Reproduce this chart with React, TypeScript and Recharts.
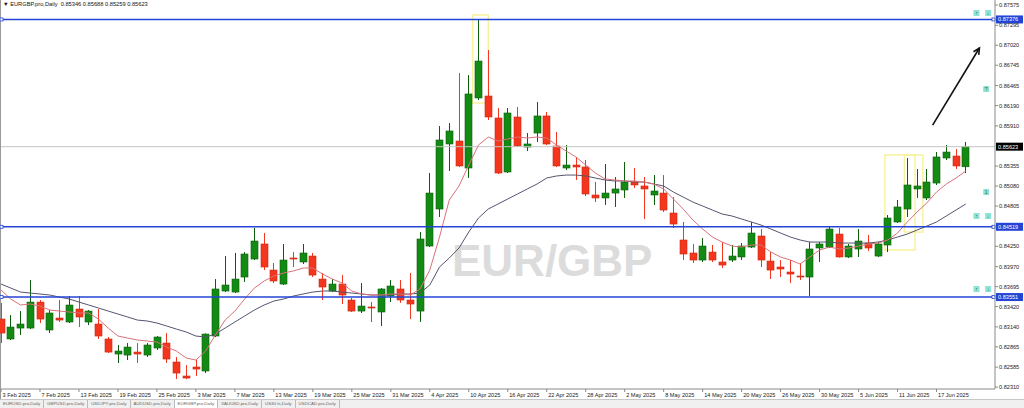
import React from "react";
import {
  ComposedChart,
  Bar,
  Line,
  XAxis,
  YAxis,
  ReferenceLine,
  ReferenceArea,
  ReferenceDot,
} from "recharts";

const FONT = '"Liberation Sans", Arial, sans-serif';
const GREEN = "#138a13";
const GREEN_EDGE = "#0c5e0c";
const RED = "#f4361e";
const RED_EDGE = "#c9280f";
const BLUE = "#2444d6";
const AXIS = "#8a8a8a";

// trading days shown on the chart
const febDays = [3, 4, 5, 6, 7, 10, 11, 12, 13, 14, 17, 18, 19, 20, 21, 24, 25, 26, 27, 28];
const marDays = [3, 4, 5, 6, 7, 10, 11, 12, 13, 14, 17, 18, 19, 20, 21, 24, 25, 26, 27, 28, 31];
const aprDays = [1, 2, 3, 4, 7, 8, 9, 10, 11, 14, 15, 16, 17, 18, 21, 22, 23, 24, 25, 28, 29, 30];
const mayDays = [1, 2, 5, 6, 7, 8, 9, 12, 13, 14, 15, 16, 19, 20, 21, 22, 23, 26, 27, 28, 29, 30];
const junDays = [2, 3, 4, 5, 6, 9, 10, 11, 12, 13, 16, 17, 18, 19, 20];

const dates = [
  ...febDays.map((d) => `${d} Feb 2025`),
  ...marDays.map((d) => `${d} Mar 2025`),
  ...aprDays.map((d) => `${d} Apr 2025`),
  ...mayDays.map((d) => `${d} May 2025`),
  ...junDays.map((d) => `${d} Jun 2025`),
];

const tickLabels = [
  "3 Feb 2025", "7 Feb 2025", "13 Feb 2025", "19 Feb 2025", "25 Feb 2025", "3 Mar 2025",
  "7 Mar 2025", "13 Mar 2025", "19 Mar 2025", "25 Mar 2025", "31 Mar 2025", "4 Apr 2025",
  "10 Apr 2025", "16 Apr 2025", "22 Apr 2025", "28 Apr 2025", "2 May 2025", "8 May 2025",
  "14 May 2025", "20 May 2025", "26 May 2025", "30 May 2025", "5 Jun 2025", "11 Jun 2025",
  "17 Jun 2025",
];

const open = [
  0.83248, 0.82973, 0.83124, 0.83124, 0.83482, 0.83097, 0.83262, 0.83207, 0.83386, 0.83207,
  0.83179, 0.82973, 0.82766, 0.82752, 0.82793, 0.82752, 0.82849, 0.82917, 0.82656, 0.82463,
  0.82587, 0.82532, 0.83014, 0.83634, 0.8362, 0.83827, 0.84075, 0.84282, 0.83923, 0.8373,
  0.84089, 0.84034, 0.84116, 0.83799, 0.83634, 0.8373, 0.8351, 0.83358, 0.83414, 0.83345,
  0.83565, 0.83662, 0.8351, 0.83358, 0.84254, 0.84764, 0.8566, 0.85701, 0.85329, 0.86294,
  0.86321, 0.86018, 0.85274, 0.86032, 0.85618, 0.85811, 0.86046, 0.85632, 0.85329, 0.8537,
  0.85343, 0.84957, 0.84916, 0.84984, 0.85026, 0.85136, 0.85081, 0.84957, 0.84984, 0.84709,
  0.84337, 0.84158, 0.84061, 0.84171, 0.84034, 0.84061, 0.84103, 0.8424, 0.84392, 0.84047,
  0.83965, 0.83896, 0.83841, 0.83827, 0.84227, 0.8424, 0.84419, 0.84103, 0.84213, 0.84295,
  0.84116, 0.84268, 0.84585, 0.84764, 0.8504, 0.84916, 0.85122, 0.85467, 0.85494, 0.85346,
];

const high = [
  0.83469, 0.83303, 0.83358, 0.83786, 0.8351, 0.83372, 0.8351, 0.83565, 0.83565, 0.83372,
  0.83386, 0.83, 0.8289, 0.82917, 0.82917, 0.82917, 0.83014, 0.83055, 0.82725, 0.82614,
  0.82697, 0.8305, 0.83799, 0.84116, 0.84158, 0.84171, 0.84502, 0.84433, 0.8402, 0.84282,
  0.84171, 0.84282, 0.84158, 0.83882, 0.83799, 0.83854, 0.83538, 0.83744, 0.83482, 0.83675,
  0.83786, 0.83786, 0.83882, 0.84447, 0.8526, 0.85908, 0.85949, 0.86638, 0.8661, 0.87382,
  0.86955, 0.86156, 0.86156, 0.8617, 0.85811, 0.86238, 0.86101, 0.85825, 0.85646, 0.85481,
  0.85439, 0.85136, 0.85384, 0.85205, 0.85412, 0.85329, 0.85205, 0.85232, 0.85232, 0.84929,
  0.84585, 0.84282, 0.84364, 0.84268, 0.84309, 0.84268, 0.84295, 0.84585, 0.84488, 0.84171,
  0.84061, 0.84061, 0.8402, 0.84309, 0.84309, 0.84516, 0.84502, 0.84282, 0.84488, 0.84406,
  0.84309, 0.84681, 0.84888, 0.85467, 0.85315, 0.85315, 0.85549, 0.85646, 0.85591, 0.85688,
];

const low = [
  0.82917, 0.82959, 0.83028, 0.8311, 0.83193, 0.83055, 0.83207, 0.83193, 0.83138, 0.83165,
  0.82973, 0.8278, 0.82642, 0.82683, 0.82642, 0.82725, 0.82821, 0.82642, 0.82421, 0.82421,
  0.82463, 0.82504, 0.83, 0.8362, 0.83606, 0.83758, 0.84061, 0.83923, 0.83744, 0.83717,
  0.83965, 0.84006, 0.83827, 0.8351, 0.8362, 0.83455, 0.83345, 0.83331, 0.83207, 0.83152,
  0.83482, 0.83469, 0.83248, 0.83207, 0.8424, 0.84654, 0.85288, 0.85343, 0.85191, 0.86266,
  0.8599, 0.85246, 0.8526, 0.85618, 0.85563, 0.85687, 0.85646, 0.85343, 0.85301, 0.85164,
  0.84943, 0.8486, 0.84819, 0.84792, 0.84916, 0.85053, 0.84626, 0.84819, 0.84723, 0.84502,
  0.84061, 0.8402, 0.84034, 0.84034, 0.83951, 0.84034, 0.84061, 0.84227, 0.83965, 0.83799,
  0.83827, 0.83744, 0.83786, 0.83565, 0.84034, 0.84227, 0.84095, 0.84089, 0.84103, 0.84185,
  0.84103, 0.84171, 0.84571, 0.84654, 0.84916, 0.84888, 0.85095, 0.85439, 0.85315, 0.85259,
];

const close = [
  0.83055, 0.83138, 0.83179, 0.83482, 0.83248, 0.83331, 0.83234, 0.83441, 0.83276, 0.83358,
  0.83014, 0.82793, 0.82807, 0.82862, 0.82766, 0.8289, 0.83, 0.82697, 0.82504, 0.82435,
  0.82559, 0.83041, 0.83662, 0.83717, 0.83799, 0.84144, 0.84323, 0.83965, 0.83772, 0.84061,
  0.84075, 0.84158, 0.83854, 0.83689, 0.8373, 0.83579, 0.83358, 0.83427, 0.834, 0.83662,
  0.83703, 0.8351, 0.83455, 0.84351, 0.84984, 0.85715, 0.85839, 0.85357, 0.86349, 0.86803,
  0.86032, 0.8526, 0.86087, 0.85632, 0.8566, 0.86046, 0.8566, 0.85357, 0.8537, 0.85343,
  0.84971, 0.84916, 0.84984, 0.8504, 0.85136, 0.85095, 0.8504, 0.85012, 0.8475, 0.84557,
  0.84144, 0.84061, 0.84254, 0.84061, 0.83992, 0.84116, 0.84254, 0.84433, 0.84061, 0.83923,
  0.83937, 0.83868, 0.83827, 0.84213, 0.84282, 0.84488, 0.84103, 0.84254, 0.84323, 0.84227,
  0.84282, 0.8464, 0.84792, 0.85095, 0.85081, 0.85136, 0.85481, 0.85549, 0.85357, 0.85623,
];

// moving averages (thin red = fast, slate = slow)
const maFast = [
  0.83648, 0.83524, 0.83441, 0.83455, 0.83427, 0.83372, 0.83358, 0.83345, 0.83331, 0.83331,
  0.83248, 0.83124, 0.83014, 0.82986, 0.82959, 0.82945, 0.82931, 0.82862, 0.82807, 0.82711,
  0.82683, 0.82807, 0.83028, 0.83234, 0.83358, 0.83524, 0.83675, 0.83772, 0.83841, 0.83882,
  0.8391, 0.83951, 0.83951, 0.83868, 0.83799, 0.83744, 0.83634, 0.83593, 0.83579, 0.83579,
  0.83593, 0.83593, 0.83579, 0.83662, 0.83923, 0.84378, 0.84888, 0.85081, 0.8537, 0.85646,
  0.85756, 0.85701, 0.85729, 0.85756, 0.85742, 0.85756, 0.85742, 0.85646, 0.85563, 0.85481,
  0.8537, 0.8526, 0.85177, 0.85164, 0.8515, 0.8515, 0.85136, 0.85108, 0.8504, 0.84902,
  0.84764, 0.84612, 0.84488, 0.84378, 0.84309, 0.84254, 0.8424, 0.84268, 0.84268, 0.84171,
  0.84103, 0.84061, 0.84006, 0.84103, 0.84199, 0.8424, 0.84213, 0.84227, 0.84254, 0.84282,
  0.84295, 0.84337, 0.84433, 0.84585, 0.84723, 0.84847, 0.84998, 0.85108, 0.85191, 0.85288,
];

const maSlow = [
  0.8373, 0.83675, 0.8362, 0.83606, 0.83593, 0.83579, 0.83551, 0.83524, 0.83482, 0.83441,
  0.834, 0.83358, 0.83317, 0.83276, 0.83234, 0.83221, 0.83193, 0.83152, 0.8311, 0.83069,
  0.83014, 0.83, 0.83041, 0.83124, 0.83207, 0.8329, 0.83372, 0.83441, 0.83496, 0.83524,
  0.83565, 0.83593, 0.8362, 0.83634, 0.83634, 0.8362, 0.83606, 0.83593, 0.83579, 0.83579,
  0.83579, 0.83593, 0.83593, 0.83606, 0.83717, 0.83965, 0.84089, 0.84227, 0.84447, 0.8464,
  0.84764, 0.84833, 0.84902, 0.84971, 0.8504, 0.85108, 0.85191, 0.85219, 0.85232, 0.85232,
  0.85219, 0.85191, 0.85164, 0.8515, 0.8515, 0.85136, 0.85136, 0.85108, 0.85081, 0.84998,
  0.84929, 0.8486, 0.84805, 0.8475, 0.84695, 0.84668, 0.84626, 0.84585, 0.84543, 0.84488,
  0.84433, 0.84378, 0.84337, 0.84309, 0.84309, 0.84309, 0.84295, 0.84295, 0.84295, 0.84295,
  0.84309, 0.84337, 0.84378, 0.84419, 0.84474, 0.84529, 0.84585, 0.84668, 0.8475, 0.84833,
];

const priceTicks = [
  0.87575, 0.87295, 0.8702, 0.86745, 0.86465, 0.8619, 0.8591, 0.85355, 0.8508, 0.84805,
  0.8425, 0.8397, 0.83695, 0.8342, 0.8314, 0.82865, 0.82585, 0.8231,
];

const levels = [0.87376, 0.84519, 0.83551];
const lastPrice = 0.85623;
const symbol = "EURGBP.pro,Daily";
const tabs = [
  "EURUSD.pro,Daily", "GBPUSD.pro,Daily", "USDJPY.pro,Daily", "AUDUSD.pro,Daily",
  "EURGBP.pro,Daily", "XAUUSD.pro,Daily", "US30.fs,Daily", "USDCAD.pro,Daily",
];

const rows = dates.map((date, i) => ({
  idx: i,
  date,
  open: open[i],
  high: high[i],
  low: low[i],
  close: close[i],
  range: [low[i], high[i]],
  maFast: maFast[i],
  maSlow: maSlow[i],
}));

const tickIdx = tickLabels.map((t) => dates.indexOf(t));
const last = rows.length - 1;

const Candle = (props: any) => {
  const { x, y, width, height, payload } = props;
  if (!payload || height == null) return null;
  const { open: o, close: c, high: h, low: l } = payload;
  const up = c >= o;
  const ppu = h - l > 0 ? height / (h - l) : 0;
  const cx = Math.round(x + width / 2) + 0.5;
  const top = y + (h - Math.max(o, c)) * ppu;
  const bottom = y + (h - Math.min(o, c)) * ppu;
  return (
    <g>
      <line x1={cx} x2={cx} y1={y} y2={y + height} stroke={up ? GREEN_EDGE : RED} strokeWidth={1} />
      <rect
        x={cx - 3.5}
        y={top}
        width={7}
        height={Math.max(1, bottom - top)}
        fill={up ? GREEN : RED}
        stroke={up ? GREEN_EDGE : RED_EDGE}
        strokeWidth={0.6}
      />
    </g>
  );
};

const DateTick = ({ x, y, payload }: any) => (
  <text x={x + 1.5} y={y} dy={5} fontSize={5.6} fontFamily={FONT} fill="#222" textAnchor="start">
    {dates[payload.value]}
  </text>
);

const PriceTick = ({ x, y, payload }: any) => (
  <text x={x} y={y} dy={2} fontSize={5.6} fontFamily={FONT} fill="#222" textAnchor="start">
    {payload.value.toFixed(5)}
  </text>
);

const priceBox = (value: number, bg: string, ends: boolean) => (p: any) => {
  const { x, y, width } = p.viewBox;
  const r = x + width;
  return (
    <g>
      {ends && <rect x={x - 1} y={y - 1.5} width={3} height={3} fill="#fff" stroke={bg} strokeWidth={0.8} />}
      {ends && <rect x={r - 3} y={y - 1.5} width={3} height={3} fill="#fff" stroke={bg} strokeWidth={0.8} />}
      <rect x={r + 1} y={y - 4} width={27} height={8} fill={bg} />
      <text x={r + 3} y={y + 2} fontSize={5.6} fontFamily={FONT} fill="#fff">
        {value.toFixed(5)}
      </text>
    </g>
  );
};

const Arrow = (p: any) => {
  const { x1, y1, x2, y2 } = p;
  const a = Math.atan2(y2 - y1, x2 - x1);
  const L = 7;
  const s = 0.45;
  const ax = x2 - L * Math.cos(a - s);
  const ay = y2 - L * Math.sin(a - s);
  const bx = x2 - L * Math.cos(a + s);
  const by = y2 - L * Math.sin(a + s);
  return (
    <g stroke="#111" strokeWidth={1.6} fill="none">
      <line x1={x1} y1={y1} x2={x2} y2={y2} />
      <polyline points={`${ax},${ay} ${x2},${y2} ${bx},${by}`} />
    </g>
  );
};

// small MT4 alert markers on the right edge
const markers = [
  { x: 100.1, y: 0.87465, g: "↑" },
  { x: 101.3, y: 0.87465, g: "↓" },
  { x: 101.1, y: 0.86418, g: "?" },
  { x: 101.1, y: 0.84998, g: "1" },
  { x: 100.1, y: 0.84668, g: "↑" },
  { x: 101.3, y: 0.84668, g: "↓" },
  { x: 100.1, y: 0.83662, g: "↑" },
  { x: 101.3, y: 0.83662, g: "↓" },
];

const Marker = (g: string) => (p: any) => (
  <g>
    <rect x={p.cx - 3} y={p.cy - 3} width={6} height={6} fill="#8de3d4" />
    <text x={p.cx} y={p.cy + 2} fontSize={5} textAnchor="middle" fill="#2a5f58" fontFamily={FONT}>
      {g}
    </text>
  </g>
);

export default function App() {
  return (
    <div
      style={{
        position: "absolute",
        left: 0,
        top: 0,
        width: 1024,
        height: 408,
        background: "#fff",
        overflow: "hidden",
        fontFamily: FONT,
      }}
    >
      <div
        style={{
          position: "absolute",
          left: 452,
          top: 239,
          fontSize: 44,
          lineHeight: "44px",
          fontWeight: 700,
          color: "#dcdcdc",
          fontFamily: FONT,
          whiteSpace: "nowrap",
        }}
      >
        EUR/GBP
      </div>
      <div style={{ position: "absolute", left: 0, top: 0, width: 1, height: 399, background: "#9a9a9a" }} />
      <div style={{ position: "absolute", left: 0, top: 0, zIndex: 1 }}>
        <ComposedChart width={1024} height={400} data={rows} margin={{ top: 0, right: 0, bottom: 0, left: 1 }}>
          <XAxis
            type="number"
            dataKey="idx"
            domain={[0, 102]}
            ticks={tickIdx}
            interval={0}
            height={11}
            tickSize={3}
            tickMargin={0}
            stroke={AXIS}
            tick={<DateTick />}
          />
          <YAxis
            orientation="right"
            type="number"
            domain={[0.82284, 0.87644]}
            allowDataOverflow
            ticks={priceTicks}
            interval={0}
            width={29}
            tickSize={3}
            tickMargin={1}
            stroke={AXIS}
            tick={<PriceTick />}
          />
          <ReferenceLine y={lastPrice} stroke="#c4c4c4" strokeWidth={1} label={priceBox(lastPrice, "#000", false)} />
          <ReferenceArea x1={48.4} x2={50.0} y1={0.86225} y2={0.87437} fill="none" stroke="#f7f29a" strokeWidth={1.5} />
          <ReferenceArea x1={90.7} x2={93.8} y1={0.84199} y2={0.85508} fill="none" stroke="#f7f29a" strokeWidth={1.5} />
          <ReferenceArea x1={92.7} x2={94.6} y1={0.84447} y2={0.85508} fill="none" stroke="#f7f29a" strokeWidth={1.5} />
          <Line dataKey="maSlow" stroke="#555570" strokeWidth={1} dot={false} isAnimationActive={false} />
          <Line dataKey="maFast" stroke="#d9727a" strokeWidth={1} dot={false} isAnimationActive={false} />
          <Bar dataKey="range" barSize={7} shape={<Candle />} isAnimationActive={false} />
          {levels.map((lv) => (
            <ReferenceLine key={lv} y={lv} stroke={BLUE} strokeWidth={1.5} label={priceBox(lv, BLUE, true)} />
          ))}
          <ReferenceLine
            segment={[
              { x: 95.6, y: 0.85921 },
              { x: 100.4, y: 0.86983 },
            ]}
            shape={Arrow}
          />
          {markers.map((m, i) => (
            <ReferenceDot key={i} x={m.x} y={m.y} r={3} shape={Marker(m.g)} />
          ))}
        </ComposedChart>
      </div>
      <div
        style={{
          position: "absolute",
          left: 3,
          top: 1,
          zIndex: 2,
          fontSize: 5.7,
          color: "#111",
          whiteSpace: "nowrap",
        }}
      >
        ▼ {symbol}&nbsp;&nbsp;{open[last].toFixed(5)} {high[last].toFixed(5)} {low[last].toFixed(5)}{" "}
        {close[last].toFixed(5)}
      </div>
      <div
        style={{
          position: "absolute",
          left: 0,
          top: 399,
          width: 1024,
          height: 9,
          background: "#f0f0f0",
          borderTop: "1px solid #c8c8c8",
          display: "flex",
          fontSize: 4.4,
          color: "#666",
        }}
      >
        {tabs.map((t) => (
          <div
            key={t}
            style={{
              padding: "1px 3px 0 3px",
              borderRight: "1px solid #bbb",
              background: t === symbol ? "#fff" : "transparent",
              whiteSpace: "nowrap",
            }}
          >
            {t}
          </div>
        ))}
      </div>
    </div>
  );
}
